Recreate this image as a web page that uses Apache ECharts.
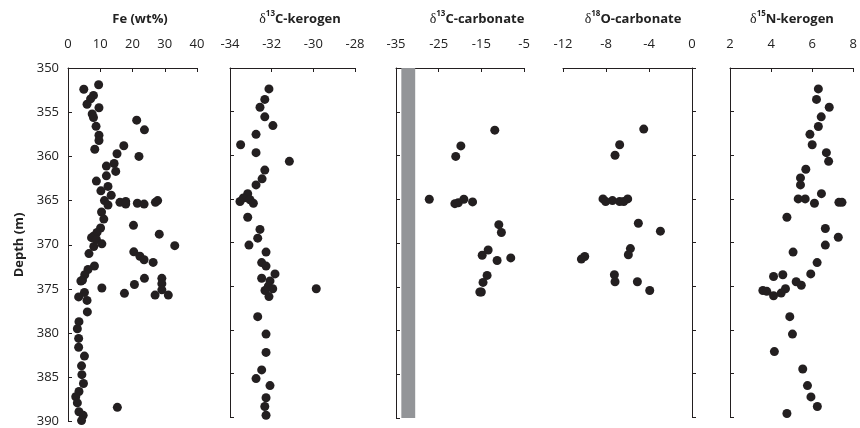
<!DOCTYPE html>
<html>
<head>
<meta charset="utf-8">
<script src="https://cdn.jsdelivr.net/npm/echarts@6/dist/echarts.min.js"></script>
<style>
  html, body { margin: 0; padding: 0; background: #fff; }
  #chart { width: 860px; height: 428px; }
</style>
</head>
<body>
<div id="chart"></div>
<script>
// depth ticks shared by all panels
var depthTicks = [350, 355, 360, 365, 370, 375, 380, 385, 390];

// Fe (wt%)
var feDepth = [351.9, 352.4, 353.1, 353.5, 354.1, 354.5, 355.2, 355.6, 355.9, 356.6, 357.0, 357.6, 358.2, 358.8, 359.2, 359.7, 360.0, 360.8, 361.1, 361.7, 362.2, 362.8, 363.4, 363.9, 364.4, 365.0, 365.0, 365.1, 365.2, 365.2, 365.3, 365.4, 365.4, 365.5, 366.3, 367.1, 367.8, 368.1, 368.6, 368.8, 369.0, 369.2, 369.4, 369.9, 370.1, 370.2, 370.8, 371.0, 371.3, 371.7, 372.0, 372.4, 372.8, 373.4, 373.8, 373.8, 374.0, 374.1, 374.4, 374.5, 374.9, 375.1, 375.4, 375.5, 375.7, 375.7, 375.9, 376.3, 377.6, 378.7, 379.5, 380.6, 381.6, 382.6, 383.7, 384.7, 385.7, 386.6, 387.2, 387.9, 388.4, 388.9, 389.3, 389.9];
var feValue = [9.5, 4.9, 7.9, 7.0, 5.9, 9.6, 7.5, 7.9, 21.3, 8.7, 23.7, 9.6, 9.6, 17.3, 8.3, 15.2, 22.0, 14.3, 11.9, 14.8, 11.9, 8.8, 12.4, 10.2, 13.4, 11.3, 27.8, 17.9, 16.1, 27.1, 21.5, 17.9, 23.6, 12.4, 10.4, 11.1, 20.3, 10.1, 9.0, 28.3, 8.0, 7.3, 8.8, 10.5, 33.1, 8.0, 20.4, 6.5, 22.3, 23.6, 26.4, 8.2, 6.2, 5.2, 23.7, 29.1, 4.5, 4.0, 29.1, 20.6, 10.5, 29.1, 5.1, 17.5, 27.0, 31.1, 3.3, 5.9, 6.0, 3.4, 2.9, 3.3, 3.3, 5.1, 4.2, 4.3, 4.8, 3.4, 2.4, 2.9, 15.3, 3.4, 4.7, 4.2];

// d13C-kerogen
var ckDepth = [352.4, 353.6, 354.5, 355.6, 356.6, 357.6, 358.8, 359.7, 360.7, 361.7, 362.7, 363.4, 364.4, 364.9, 365.1, 365.3, 365.5, 367.1, 368.5, 369.5, 370.3, 371.1, 372.3, 372.7, 373.6, 374.1, 374.4, 375.0, 375.3, 375.3, 375.5, 376.2, 378.5, 380.5, 382.6, 384.6, 385.6, 386.4, 387.8, 388.8, 389.8];
var ckValue = [-32.13, -32.33, -32.56, -32.33, -31.94, -32.75, -33.49, -32.75, -31.15, -32.33, -32.46, -32.75, -33.15, -33.36, -33.04, -33.52, -32.88, -33.15, -32.56, -32.67, -33.09, -32.27, -32.48, -32.27, -31.84, -32.48, -32.08, -32.16, -31.95, -29.86, -32.32, -32.13, -32.67, -32.27, -32.27, -32.48, -32.75, -32.08, -32.27, -32.33, -32.27];

// d13C-carbonate
var ccDepth = [357.1, 358.9, 360.1, 365.0, 365.0, 365.3, 365.4, 365.5, 367.9, 368.8, 370.8, 371.4, 371.7, 372.0, 373.7, 374.5, 375.6, 375.6];
var ccValue = [-11.85, -19.8, -21.0, -27.2, -19.1, -17.05, -20.4, -21.2, -10.9, -10.3, -13.4, -14.8, -8.1, -11.3, -13.65, -14.6, -15.0, -15.35];
// grey reference band in the carbonate panel
var ccBand = [-33.75, -30.5];

// d18O-carbonate
var ocDepth = [357.0, 358.8, 360.0, 365.0, 365.0, 365.2, 365.3, 365.3, 365.3, 367.8, 368.7, 370.7, 371.4, 371.6, 371.9, 373.7, 374.5, 374.5, 375.5];
var ocValue = [-4.49, -6.73, -7.16, -8.28, -5.98, -7.40, -8.03, -6.73, -6.35, -4.99, -2.94, -5.73, -5.92, -9.98, -10.29, -7.22, -7.16, -5.08, -3.93];

// d15N-kerogen
var nkDepth = [352.4, 353.6, 354.5, 355.6, 356.7, 357.6, 358.8, 359.7, 360.7, 361.6, 362.6, 363.4, 364.4, 365.0, 365.0, 365.5, 365.4, 365.4, 367.1, 368.4, 369.4, 370.3, 371.1, 372.3, 373.6, 373.7, 373.9, 374.5, 374.9, 375.3, 375.5, 375.6, 375.8, 376.1, 378.5, 380.5, 382.5, 384.5, 386.4, 387.7, 388.8, 389.6];
var nkValue = [6.30, 6.21, 6.83, 6.44, 6.30, 5.89, 6.00, 6.69, 6.80, 5.69, 5.43, 5.43, 6.45, 5.32, 5.66, 6.11, 7.30, 7.45, 4.77, 6.64, 7.27, 6.64, 5.07, 6.24, 5.93, 4.57, 4.12, 5.22, 5.47, 4.70, 3.60, 3.79, 4.49, 4.12, 4.91, 5.04, 4.16, 5.54, 5.77, 5.94, 6.25, 4.77];

// x-axis tick labels per panel
var feTicks = [0, 10, 20, 30, 40];
var ckTicks = [-34, -32, -30, -28];
var ccTicks = [-35, -25, -15, -5];
var ocTicks = [-12, -8, -4, 0];
var nkTicks = [2, 4, 6, 8];

var ink = "#231f20";
var font = "'Open Sans', 'Noto Sans', sans-serif";

// pixel frame for each panel
var panels = [
  { left: 68, width: 129, height: 354, ticks: feTicks, depth: feDepth, value: feValue, shift: 0 },
  { left: 230, width: 125, height: 349, ticks: ckTicks, depth: ckDepth, value: ckValue, shift: 0 },
  { left: 396, width: 128, height: 350, ticks: ccTicks, depth: ccDepth, value: ccValue, shift: 35 },
  { left: 563, width: 129, height: 349, ticks: ocTicks, depth: ocDepth, value: ocValue, shift: 0 },
  { left: 730, width: 128, height: 349, ticks: nkTicks, depth: nkDepth, value: nkValue, shift: 0 }
];

var grids = [], xAxes = [], yAxes = [], series = [];
panels.forEach(function (p, i) {
  grids.push({ left: p.left, top: 68, width: p.width, height: p.height });
  var t = p.ticks;
  xAxes.push({
    gridIndex: i,
    type: "value",
    position: "top",
    min: t[0] + p.shift,
    max: t[t.length - 1] + p.shift,
    interval: t[1] - t[0],
    axisLine: { show: true, lineStyle: { color: ink, width: 1 } },
    axisTick: { show: true, inside: true, length: 4, lineStyle: { color: ink } },
    splitLine: { show: false },
    axisLabel: {
      show: true,
      margin: 17,
      color: "#222",
      fontFamily: font,
      fontSize: 13,
      showMinLabel: true,
      showMaxLabel: true,
      formatter: (function (s) { return function (v) { return String(Math.round(v - s)); }; })(p.shift)
    }
  });
  yAxes.push({
    gridIndex: i,
    type: "value",
    inverse: true,
    min: depthTicks[0],
    max: depthTicks[depthTicks.length - 1],
    interval: depthTicks[1] - depthTicks[0],
    axisLine: { show: true, lineStyle: { color: ink, width: 1 } },
    axisTick: { show: true, inside: true, length: 4, lineStyle: { color: ink } },
    splitLine: { show: false },
    axisLabel: {
      show: i === 0,
      margin: 9,
      color: "#222",
      fontFamily: font,
      fontSize: 13
    }
  });
  var s = {
    type: "scatter",
    xAxisIndex: i,
    yAxisIndex: i,
    symbol: "circle",
    symbolSize: 9,
    itemStyle: { color: ink, opacity: 1 },
    z: 3,
    data: p.value.map(function (v, k) { return [v + p.shift, p.depth[k]]; })
  };
  if (i === 2) {
    s.markArea = {
      silent: true,
      itemStyle: { color: "#939598", opacity: 1 },
      data: [[
        { xAxis: ccBand[0] + p.shift, yAxis: depthTicks[0] },
        { xAxis: ccBand[1] + p.shift, yAxis: depthTicks[depthTicks.length - 1] }
      ]]
    };
  }
  series.push(s);
});

function titleRich(sup, rest) {
  return {
    text: "{d|δ}{s|" + sup + "}{b|" + rest + "}",
    rich: {
      d: { fontFamily: "'Liberation Serif', serif", fontSize: 14, fill: "#222", lineHeight: 18 },
      s: { fontFamily: font, fontSize: 8, fontWeight: "bold", fill: "#222", lineHeight: 11, verticalAlign: "top" },
      b: { fontFamily: font, fontSize: 13, fontWeight: "bold", fill: "#222", lineHeight: 18 }
    }
  };
}

var titles = [
  { x: 140, style: { text: "Fe (wt%)", font: "bold 13px " + font, fill: "#222" } },
  { x: 300, style: titleRich("13", "C-kerogen") },
  { x: 477, style: titleRich("13", "C-carbonate") },
  { x: 633, style: titleRich("18", "O-carbonate") },
  { x: 792, style: titleRich("15", "N-kerogen") }
];

var graphics = titles.map(function (t) {
  var st = t.style;
  st.align = "center";
  st.verticalAlign = "middle";
  return { type: "text", x: t.x, y: 19, style: st, silent: true };
});
graphics.push({
  type: "text",
  x: 19,
  y: 245,
  rotation: Math.PI / 2,
  style: { text: "Depth (m)", font: "bold 13px " + font, fill: "#222", align: "center", verticalAlign: "middle" },
  silent: true
});

var chart = echarts.init(document.getElementById("chart"));
chart.setOption({
  animation: false,
  backgroundColor: "#fff",
  grid: grids,
  xAxis: xAxes,
  yAxis: yAxes,
  series: series,
  graphic: graphics
});
</script>
</body>
</html>
